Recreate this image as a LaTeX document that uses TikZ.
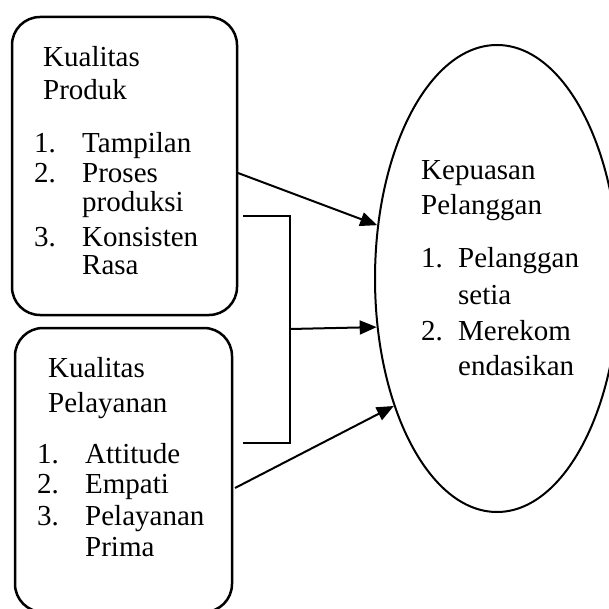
\documentclass[tikz,border=0pt]{standalone}
\usepackage{fontspec}
\setmainfont{Liberation Serif}
\usetikzlibrary{arrows.meta,shapes.geometric}
\begin{document}
\begin{tikzpicture}[x=1pt,y=1pt,
 box/.style={draw, line width=2.5pt, rounded corners=28pt, inner sep=0pt},
 txt/.style={anchor=base west, inner sep=0pt, font=\fontsize{29}{33}\selectfont},
 conn/.style={line width=2pt},
 arr/.style={conn, -{Triangle[length=17pt,width=14pt]}}]
\useasboundingbox (0,0) rectangle (609,608);
\clip (0,0) rectangle (609,608);
% boxes
\node[box, minimum width=225pt, minimum height=298pt] (b1) at (124.5,442) {};
\node[box, minimum width=217pt, minimum height=284pt] (b2) at (123.5,138) {};
\node[draw, ellipse, line width=2pt, minimum width=244pt, minimum height=467pt, inner sep=0pt] (kp) at (497,329.5) {};
% box 1 text
\node[txt] (b1t1) at (43,541) {Kualitas};
\node[txt] (b1t2) at (43,508) {Produk};
\node[txt] (b1n1) at (34,455) {1.};
\node[txt] (b1i1) at (82,455) {Tampilan};
\node[txt] (b1n2) at (34,425) {2.};
\node[txt] (b1i2) at (82,425) {Proses};
\node[txt] (b1i2b) at (82,396) {produksi};
\node[txt] (b1n3) at (34,361) {3.};
\node[txt] (b1i3) at (82,361) {Konsisten};
\node[txt] (b1i3b) at (82,333) {Rasa};
% box 2 text
\node[txt] (b2t1) at (48,231) {Kualitas};
\node[txt] (b2t2) at (48,196) {Pelayanan};
\node[txt] (b2n1) at (37,145) {1.};
\node[txt] (b2i1) at (85,145) {Attitude};
\node[txt] (b2n2) at (37,115) {2.};
\node[txt] (b2i2) at (85,115) {Empati};
\node[txt] (b2n3) at (37,83) {3.};
\node[txt] (b2i3) at (85,83) {Pelayanan};
\node[txt] (b2i3b) at (85,52) {Prima};
% ellipse text
\node[txt] (kt1) at (421,428) {Kepuasan};
\node[txt] (kt2) at (421,393) {Pelanggan};
\node[txt] (kn1) at (421,340) {1.};
\node[txt] (ki1) at (458,340) {Pelanggan};
\node[txt] (ki1b) at (458,303) {setia};
\node[txt] (kn2) at (421,268) {2.};
\node[txt] (ki2) at (458,268) {Merekom};
\node[txt] (ki2b) at (458,233) {endasikan};
% connectors
\coordinate (s1) at (238,435);
\coordinate (t1) at (243,392);
\coordinate (t2) at (290,392);
\coordinate (t3) at (290,165);
\coordinate (t4) at (243,165);
\coordinate (m) at (290,279);
\coordinate (s3) at (235,120);
\draw[arr] (s1) -- (kp.156.6);
\draw[conn] (t1) -- (t2) -- (t3) -- (t4);
\draw[arr] (m) -- (kp.202.8);
\draw[arr] (s3) -- (kp.231.1);
\end{tikzpicture}
\end{document}
